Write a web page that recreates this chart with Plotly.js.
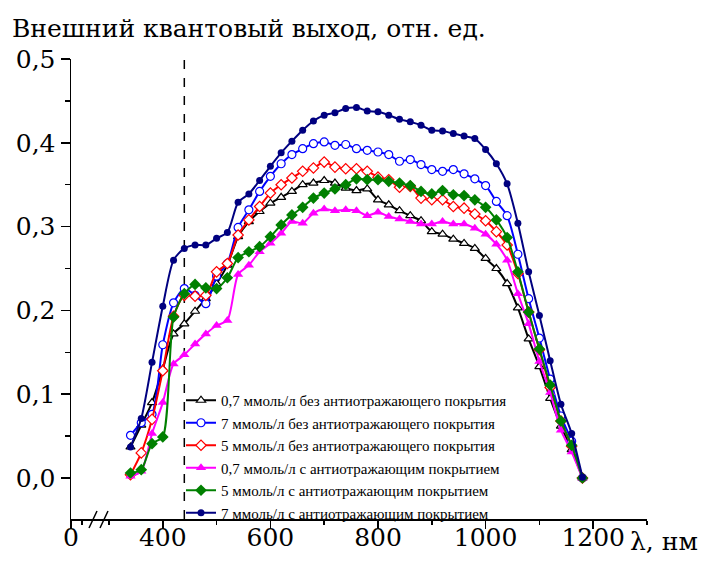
<!DOCTYPE html>
<html><head><meta charset="utf-8">
<script src="https://cdn.plot.ly/plotly-3.0.1.min.js"></script>
<style>html,body{margin:0;padding:0;background:#fff}#chart{width:707px;height:564px}</style>
</head><body><div id="chart"></div>
<script>
const wavelength = [340,360,380,400,420,440,460,480,500,520,540,560,580,600,620,640,660,680,700,720,740,760,780,800,820,840,860,880,900,920,940,960,980,1000,1020,1040,1060,1080,1100,1120,1140,1160,1180];

const c07NoAR = [0.037,0.063,0.090,0.130,0.172,0.184,0.199,0.214,0.232,0.254,0.288,0.306,0.318,0.328,0.335,0.342,0.350,0.352,0.355,0.352,0.346,0.343,0.345,0.332,0.326,0.319,0.313,0.307,0.294,0.291,0.285,0.280,0.274,0.262,0.250,0.232,0.203,0.166,0.133,0.095,0.062,0.034,0.000];
const c7NoAR  = [0.051,0.066,0.076,0.159,0.209,0.226,0.218,0.208,0.241,0.256,0.299,0.320,0.342,0.360,0.375,0.386,0.393,0.399,0.401,0.397,0.398,0.393,0.391,0.389,0.386,0.378,0.380,0.374,0.368,0.366,0.368,0.363,0.357,0.349,0.330,0.313,0.267,0.214,0.167,0.118,0.074,0.044,0.000];
const c5NoAR  = [0.004,0.030,0.070,0.128,0.193,0.218,0.217,0.218,0.246,0.256,0.290,0.308,0.324,0.340,0.350,0.358,0.366,0.370,0.377,0.371,0.369,0.369,0.366,0.359,0.356,0.347,0.348,0.334,0.332,0.332,0.324,0.322,0.315,0.307,0.294,0.278,0.244,0.198,0.153,0.108,0.068,0.038,0.000];
const c07AR   = [0.002,0.008,0.053,0.090,0.136,0.147,0.160,0.172,0.182,0.188,0.243,0.254,0.270,0.280,0.292,0.306,0.304,0.316,0.321,0.319,0.320,0.319,0.313,0.317,0.312,0.309,0.306,0.303,0.303,0.306,0.303,0.303,0.298,0.291,0.279,0.260,0.220,0.184,0.139,0.102,0.057,0.031,0.000];
const c5AR    = [0.006,0.010,0.041,0.049,0.192,0.220,0.231,0.227,0.226,0.239,0.263,0.270,0.276,0.288,0.302,0.314,0.323,0.334,0.340,0.345,0.350,0.357,0.356,0.356,0.354,0.352,0.349,0.342,0.339,0.343,0.338,0.337,0.332,0.323,0.308,0.287,0.246,0.198,0.154,0.111,0.068,0.039,0.000];
const c7AR    = [0.037,0.071,0.138,0.205,0.260,0.274,0.278,0.278,0.286,0.293,0.329,0.339,0.355,0.372,0.388,0.402,0.415,0.426,0.433,0.436,0.441,0.442,0.438,0.437,0.433,0.428,0.425,0.421,0.415,0.414,0.411,0.408,0.405,0.392,0.375,0.351,0.304,0.246,0.194,0.140,0.088,0.053,0.001];

const seriesNames = [
  '0,7 ммоль/л без антиотражающего покрытия',
  '7 ммоль/л без антиотражающего покрытия',
  '5 ммоль/л без антиотражающего покрытия',
  '0,7 ммоль/л с антиотражающим покрытием',
  '5 ммоль/л с антиотражающим покрытием',
  '7 ммоль/л с антиотражающим покрытием'
];

const xTickVals = [229.4, 400, 600, 800, 1000, 1200];
const xTickText = ['0', '400', '600', '800', '1000', '1200'];
const xMinorVals = [250, 300, 500, 700, 900, 1100, 1300];
const yTickVals = [0, 0.1, 0.2, 0.3, 0.4, 0.5];
const yTickText = ['0,0', '0,1', '0,2', '0,3', '0,4', '0,5'];
const yMinorVals = [0.05, 0.15, 0.25, 0.35, 0.45];
const markerLine = 440;

const FONT = 'Times New Roman';
const BIGFONT = 'DejaVu Serif';
const BIG = 25;

function tr(y, name, color, symbol, open, size) {
  return {
    x: wavelength, y: y, name: name, type: 'scatter', mode: 'lines+markers',
    line: {color: color, width: 2, shape: 'spline', smoothing: 0.7},
    marker: {symbol: symbol, size: size, color: open ? '#ffffff' : color,
             line: {color: color, width: open ? 1.2 : 0}}
  };
}

const data = [
  tr(c07NoAR, seriesNames[0], '#000000', 'triangle-up', true, 8),
  tr(c7NoAR,  seriesNames[1], '#0000ff', 'circle', true, 8),
  tr(c5NoAR,  seriesNames[2], '#ff0000', 'diamond', true, 8),
  tr(c07AR,   seriesNames[3], '#ff00ff', 'triangle-up', false, 9),
  tr(c5AR,    seriesNames[4], '#008000', 'diamond', false, 9),
  tr(c7AR,    seriesNames[5], '#000080', 'circle', false, 7)
];

const layout = {
  width: 707, height: 564,
  margin: {l: 71, r: 60, t: 59, b: 45},
  paper_bgcolor: '#ffffff', plot_bgcolor: '#ffffff',
  font: {family: FONT, color: '#000'},
  showlegend: true,
  title: {text: 'Внешний квантовый выход, отн. ед.', font: {family: BIGFONT, size: BIG, color: '#000'},
          xref: 'container', x: 12/707, xanchor: 'left', yref: 'container', y: 1 - 28/564, yanchor: 'middle'},
  xaxis: {
    range: [229.4, 1300], showgrid: false, zeroline: false,
    showline: true, linecolor: '#000', linewidth: 1.5,
    tickmode: 'array', tickvals: xTickVals, ticktext: xTickText,
    ticks: 'outside', ticklen: 8, tickwidth: 1.5, tickcolor: '#000',
    ticklabelstandoff: -13,
    tickfont: {family: BIGFONT, size: BIG, color: '#000'},
    minor: {tickmode: 'array', tickvals: xMinorVals, ticks: 'outside', ticklen: 4, tickwidth: 1.5, tickcolor: '#000'}
  },
  yaxis: {
    range: [-0.0489, 0.5], showgrid: false, zeroline: false,
    showline: true, linecolor: '#000', linewidth: 1.5,
    tickmode: 'array', tickvals: yTickVals, ticktext: yTickText,
    ticks: 'outside', ticklen: 9, tickwidth: 1.5, tickcolor: '#000',
    tickfont: {family: BIGFONT, size: BIG, color: '#000'},
    minor: {tickmode: 'array', tickvals: yMinorVals, ticks: 'outside', ticklen: 5, tickwidth: 1.5, tickcolor: '#000'}
  },
  legend: {
    x: (181 - 71) / 576, xanchor: 'left', y: (519 - 384) / 460, yanchor: 'top',
    bgcolor: 'rgba(0,0,0,0)', borderwidth: 0, tracegroupgap: 0,
    font: {family: FONT, size: 15, color: '#000'}
  },
  shapes: [
    {type: 'line', xref: 'x', yref: 'paper', x0: markerLine, x1: markerLine, y0: 0, y1: 1,
     line: {color: '#000', width: 1.5, dash: 'dash'}, layer: 'below'},
    {type: 'line', xref: 'paper', yref: 'paper', x0: (89-71)/576, y0: -9/460, x1: (97-71)/576, y1: 8/460,
     line: {color: '#000', width: 1.5}},
    {type: 'line', xref: 'paper', yref: 'paper', x0: (100-71)/576, y0: -9/460, x1: (108-71)/576, y1: 8/460,
     line: {color: '#000', width: 1.5}}
  ],
  annotations: [
    {text: 'λ, нм', xref: 'paper', yref: 'paper', x: (628-71)/576, xanchor: 'left',
     y: (519-541)/460, yanchor: 'middle', showarrow: false, font: {family: BIGFONT, size: BIG, color: '#000'}}
  ]
};

Plotly.newPlot('chart', data, layout, {displayModeBar: false, staticPlot: true});
</script>
</body></html>
